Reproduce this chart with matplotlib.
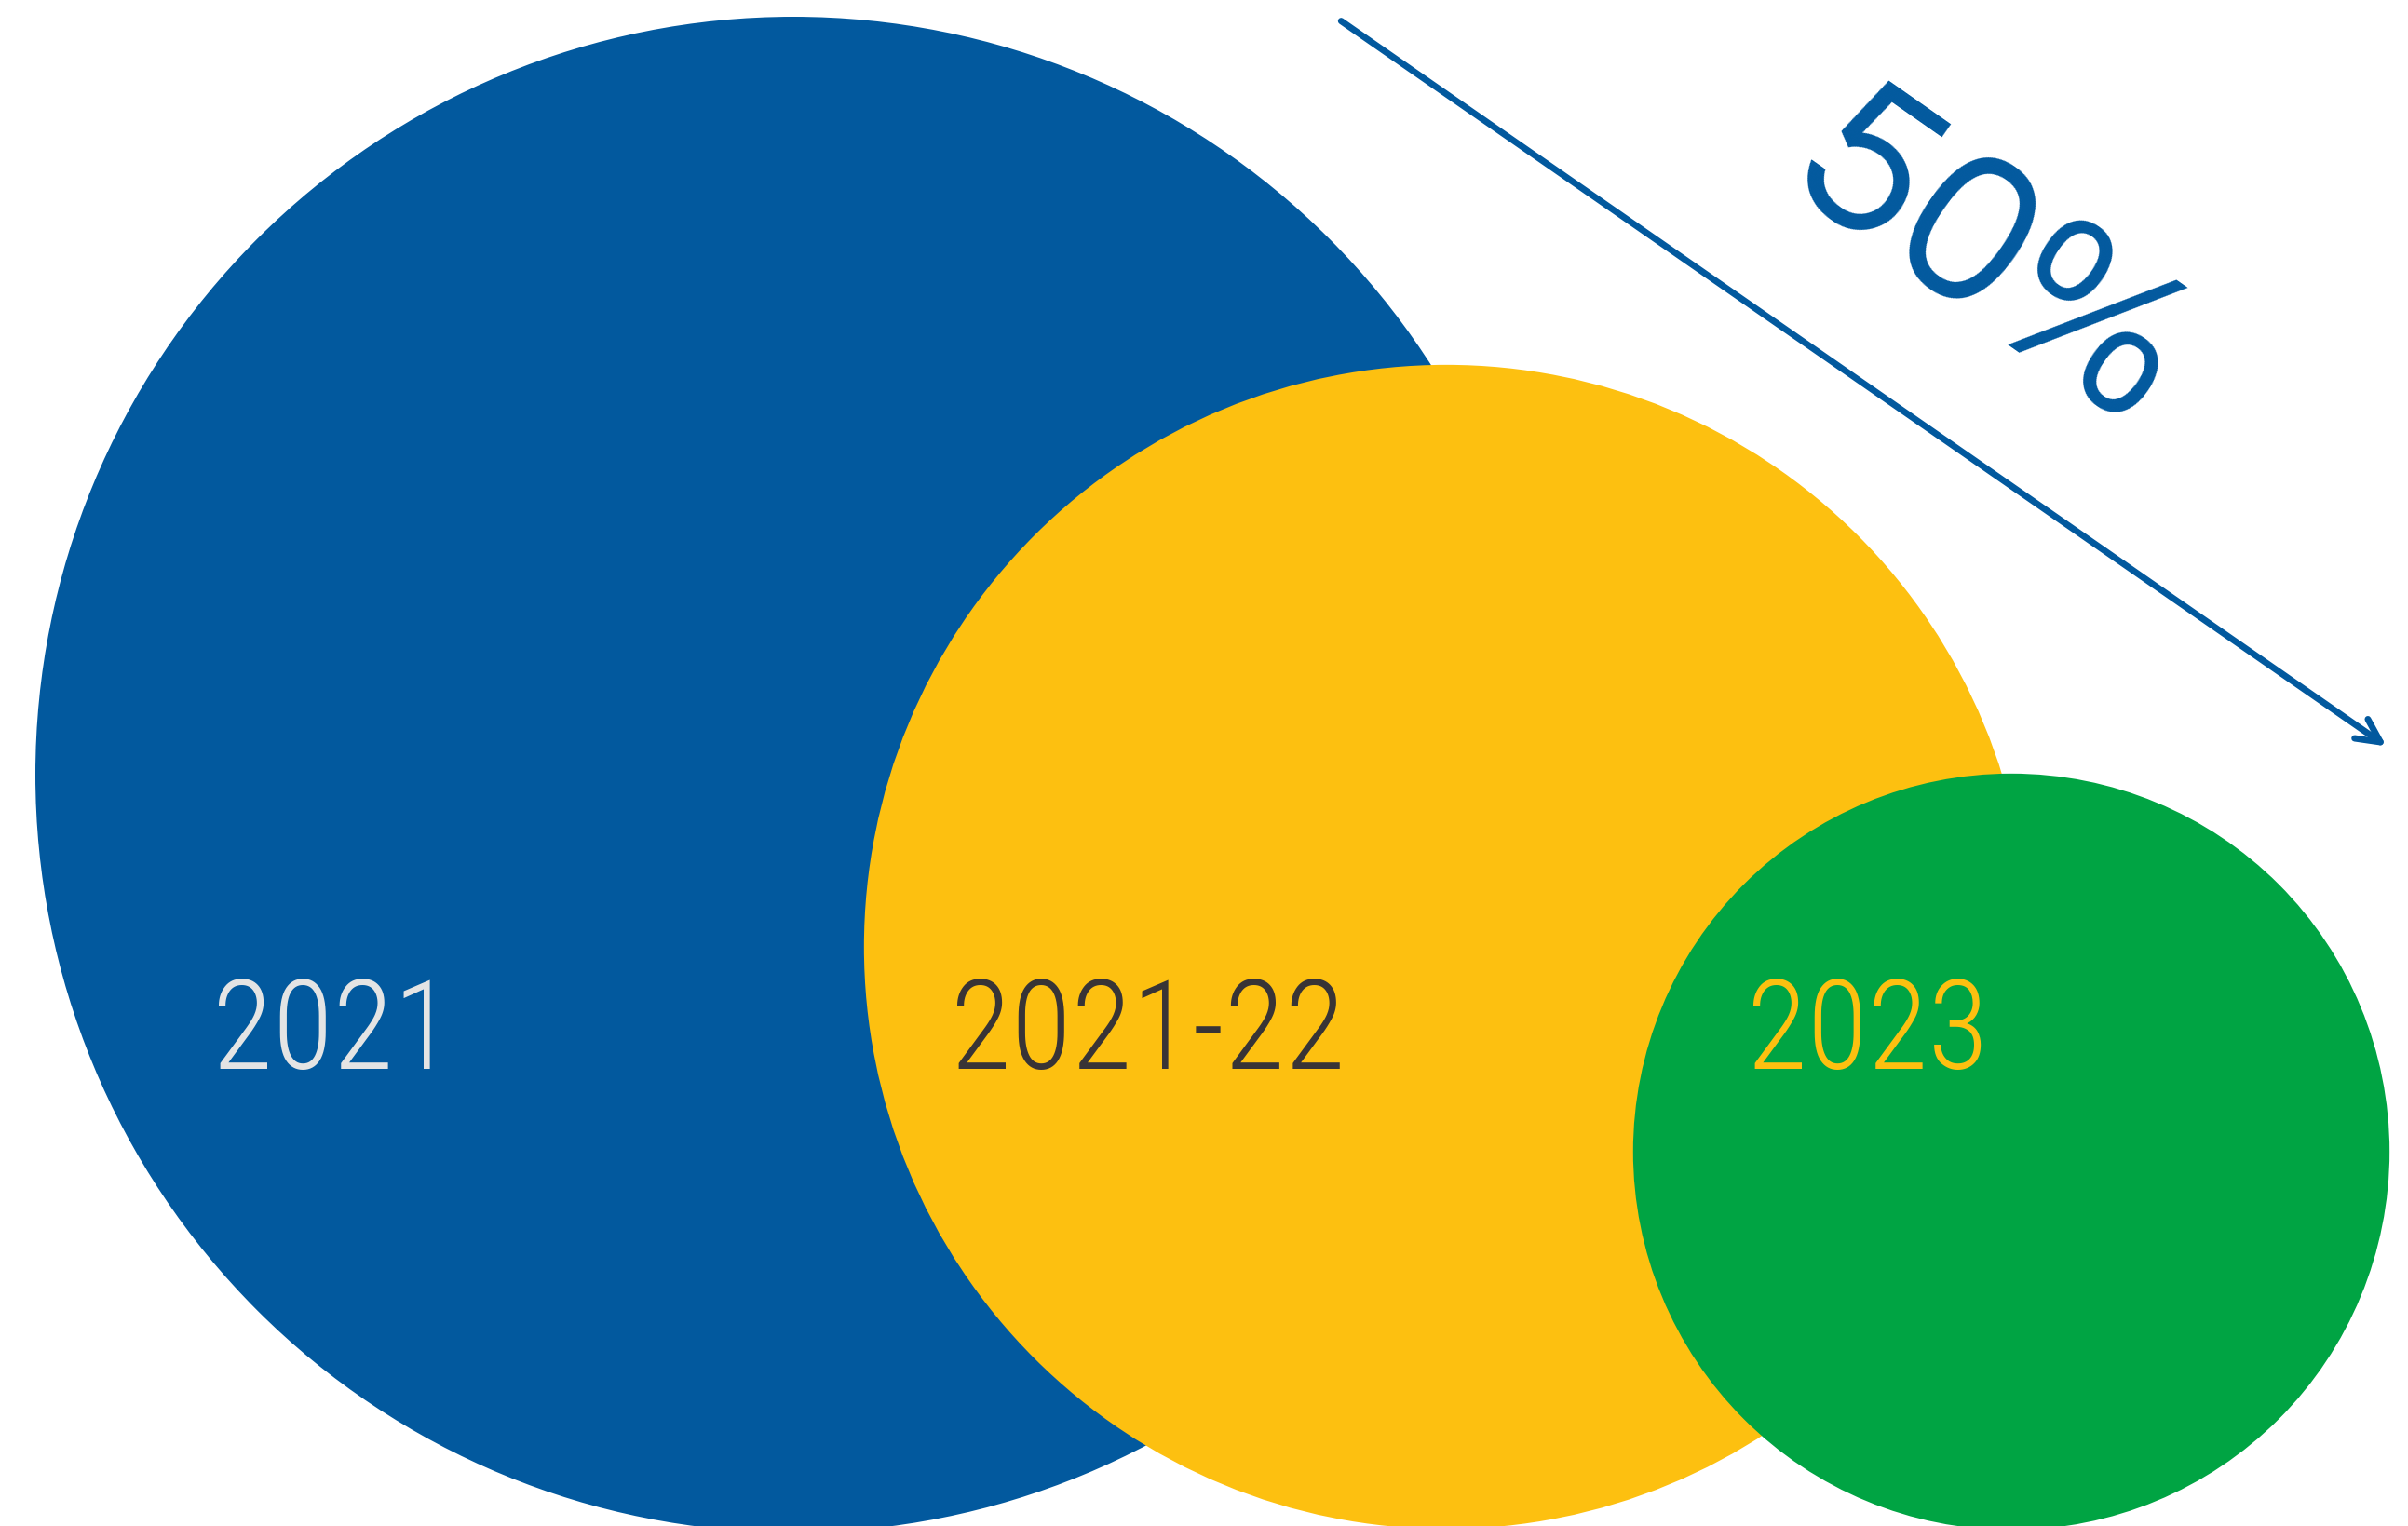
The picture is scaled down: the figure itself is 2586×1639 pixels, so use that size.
import matplotlib
matplotlib.use('Agg')
import matplotlib.pyplot as plt
from matplotlib.patches import Circle, FancyArrowPatch

# data: three periods, circle diameter relative to 2021 (percent)
periods = ['2021', '2021-22', '2023']
relative_size = [100, 76.8, 49.9]
change_label = '50%'

# styling / layout (pixel space of a 2586x1639 canvas)
W, H = 2586, 1639
R_MAX = 814
centers = [(852, 832), (1553, 1017), (2160, 1237)]
fill_colors = ['#02599E', '#FDC010', '#00A443']
text_colors = ['#E4E4E4', '#383436', '#FDC010']
label_x = [228, 1021, 1876]
label_y = 1148
blue = '#02599E'

year_font = ['Roboto Condensed', 'IBM Plex Sans Condensed', 'DejaVu Sans']
pct_font = ['Questrial', 'Lato', 'DejaVu Sans']

fig = plt.figure(figsize=(W / 100, H / 100), dpi=100)
ax = fig.add_axes([0, 0, 1, 1])
ax.set_xlim(0, W)
ax.set_ylim(H, 0)
ax.set_aspect('equal')
ax.axis('off')

# circles, drawn largest first so the smaller ones sit on top
for i, (size, c, fc) in enumerate(zip(relative_size, centers, fill_colors)):
    r = R_MAX * size / 100.0
    ax.add_patch(Circle(c, r, facecolor=fc, edgecolor='none', zorder=1 + i))

# period labels
for lab, tc, x in zip(periods, text_colors, label_x):
    ax.text(x, label_y, lab, color=tc, fontsize=96, family=year_font,
            weight='light', ha='left', va='baseline', zorder=10)

# decline arrow + label
arr = FancyArrowPatch((1438, 21), (2565, 803),
                      arrowstyle='->,head_length=0.9,head_width=0.45',
                      mutation_scale=20, color=blue, lw=5,
                      capstyle='round', joinstyle='round', zorder=5)
ax.add_patch(arr)
ax.text(2134, 286, change_label, color=blue, fontsize=170, family=pct_font,
        rotation=-35, rotation_mode='anchor', ha='center', va='center', zorder=6)

fig.savefig('out.png', dpi=100)
